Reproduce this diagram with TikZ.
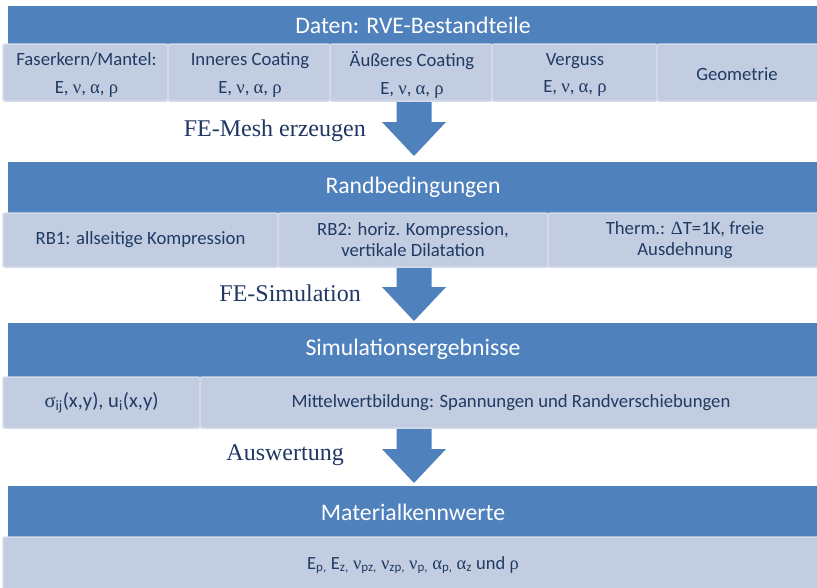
\documentclass[tikz,border=0pt]{standalone}
\usepackage{fontspec}
\setmainfont{Carlito}
\newfontfamily\tms{Liberation Serif}
\newfontfamily\gr{Liberation Serif}
\usetikzlibrary{calc}
\definecolor{bandc}{HTML}{4F81BD}
\definecolor{litec}{HTML}{C3CDE1}
\definecolor{liteb}{HTML}{D3DBEA}
\definecolor{inkc}{HTML}{1F3A63}
\definecolor{labc}{HTML}{1F3864}
\newcommand\gk[1]{{\gr #1}}
\newcommand\flowarrow[2]{%
  \fill[bandc] let \p1=(#1), \p2=(#2) in
  (\x1-17.5pt,\y1) -- (\x1+17.5pt,\y1) -- (\x1+17.5pt,\y2+34pt) -- (\x1+32pt,\y2+34pt)
  -- (\x1,\y2) -- (\x1-32pt,\y2+34pt) -- (\x1-17.5pt,\y2+34pt) -- cycle;}
\begin{document}
\begin{tikzpicture}[x=1pt,y=-1pt,
  bandbox/.style={fill=bandc, draw=none, inner sep=0pt, anchor=north west},
  bandtxt/.style={text=white, font=\fontsize{23.7}{28}\selectfont, inner sep=0pt},
  subbox/.style={fill=litec, draw=liteb, line width=1.5pt, rounded corners=2pt, inner sep=0pt,
    text=inkc, align=center, font=\fontsize{18.7}{21}\selectfont},
  subtxt/.style={text=inkc, align=center, inner sep=0pt, font=\fontsize{18.7}{21}\selectfont},
  labtxt/.style={text=labc, font=\tms\fontsize{24}{28}\selectfont, anchor=east, inner sep=0pt}]
\useasboundingbox (0,0) rectangle (817,587);
\fill[white] (0,0) rectangle (817,587);
% arrows
\coordinate (a1s) at (414,101); \coordinate (a1t) at (414,156);
\coordinate (a2s) at (414,267); \coordinate (a2t) at (414,321);
\coordinate (a3s) at (414,428); \coordinate (a3t) at (414,483);
\flowarrow{a1s}{a1t}
\flowarrow{a2s}{a2t}
\flowarrow{a3s}{a3t}
% band 1
\node[bandbox, minimum width=812pt, minimum height=38pt] (b1) at (8,6) {};
\node[bandtxt] (t1) at (413,25) {Daten: RVE-Bestandteile};
\node[subbox, minimum width=165pt, minimum height=57pt] (r1a) at (85.5,72.5) {};
\node[subbox, minimum width=162pt, minimum height=57pt] (r1b) at (249,72.5) {};
\node[subbox, minimum width=162pt, minimum height=57pt] (r1c) at (411,72.5) {};
\node[subbox, minimum width=165pt, minimum height=57pt] (r1d) at (574.5,72.5) {};
\node[subbox, minimum width=164pt, minimum height=57pt] (r1e) at (739,72.5) {};
\node[subtxt] (r1at) at (86.5,75) {Faserkern/Mantel:\\[6.5pt]E, \gk{ν}, \gk{α}, \gk{ρ}};
\node[subtxt] (r1bt) at (250,75) {Inneres Coating\\[6.5pt]E, \gk{ν}, \gk{α}, \gk{ρ}};
\node[subtxt] (r1ct) at (412,75) {Äußeres Coating\\[6.5pt]E, \gk{ν}, \gk{α}, \gk{ρ}};
\node[subtxt] (r1dt) at (575,75) {Verguss\\[6.5pt]E, \gk{ν}, \gk{α}, \gk{ρ}};
\node[subtxt] (r1et) at (737,74) {Geometrie};
\node[labtxt] (l1) at (366,131) {FE-Mesh erzeugen};
% band 2
\node[bandbox, minimum width=812pt, minimum height=51pt] (b2) at (8,162) {};
\node[bandtxt] (t2) at (413,187) {Randbedingungen};
\node[subbox, minimum width=275pt, minimum height=54pt] (r2a) at (140.5,240) {RB1: allseitige Kompression};
\node[subbox, minimum width=270pt, minimum height=54pt] (r2b) at (413,240) {RB2: horiz. Kompression,\\vertikale Dilatation};
\node[subbox, minimum width=274pt, minimum height=54pt] (r2c) at (685,240) {Therm.: \gk{Δ}T=1K, freie\\Ausdehnung};
\node[labtxt] (l2) at (361,293) {FE-Simulation};
% band 3
\node[bandbox, minimum width=812pt, minimum height=54pt] (b3) at (8,323) {};
\node[bandtxt] (t3) at (413,349) {Simulationsergebnisse};
\node[subbox, minimum width=197pt, minimum height=51pt, font=\fontsize{20.5}{24}\selectfont] (r3a) at (101.5,402.5) {\gk{σ}\textsubscript{ij}(x,y), u\textsubscript{i}(x,y)};
\node[subbox, minimum width=622pt, minimum height=51pt] (r3b) at (511,402.5) {Mittelwertbildung: Spannungen und Randverschiebungen};
\node[labtxt] (l3) at (344,455) {Auswertung};
% band 4
\node[bandbox, minimum width=812pt, minimum height=51pt] (b4) at (8,486) {};
\node[bandtxt] (t4) at (413,512) {Materialkennwerte};
\node[subbox, minimum width=820pt, minimum height=56pt, font=\fontsize{18.5}{21}\selectfont] (r4) at (413,565) {E\textsubscript{p,} E\textsubscript{z,} \gk{ν}\textsubscript{pz,} \gk{ν}\textsubscript{zp,} \gk{ν}\textsubscript{p,} \gk{α}\textsubscript{p,} \gk{α}\textsubscript{z} und \gk{ρ}};
\end{tikzpicture}
\end{document}
